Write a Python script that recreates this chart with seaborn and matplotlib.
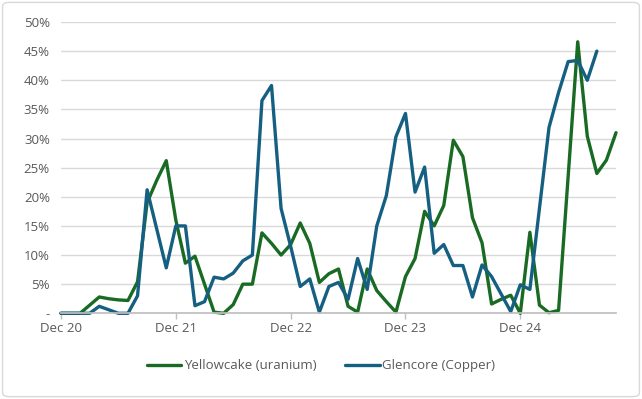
import pandas as pd
import matplotlib.pyplot as plt
import seaborn as sns
from matplotlib.patches import FancyBboxPatch
from matplotlib.ticker import FuncFormatter

# Valores mensais (Dec 20 = mês 0)
yellowcake = [0, 0, 0, 1.4, 2.8, 2.5, 2.3, 2.2, 5.4, 19.0,
              22.8, 26.2, 16.0, 8.6, 9.8, 5.0, 0.2, 0, 1.5, 5.0,
              5.0, 13.8, 12.0, 10.0, 11.8, 15.5, 12.0, 5.3, 6.8, 7.6,
              1.2, 0.2, 7.6, 3.9, 2.0, 0.2, 6.3, 9.4, 17.5, 15.0,
              18.5, 29.7, 26.9, 16.4, 12.1, 1.6, 2.4, 3.1, 0, 13.9,
              1.4, 0.1, 0.5, 23.5, 46.6, 30.4, 24.0, 26.3, 31.0]
glencore = [0, 0, 0, 0, 1.2, 0.6, 0, 0, 3.0, 21.2,
            14.5, 7.8, 15.0, 15.0, 1.3, 2.0, 6.2, 5.9, 6.9, 9.0,
            10.0, 36.5, 39.1, 18.0, 11.5, 4.6, 5.9, 0.2, 4.6, 5.3,
            2.4, 9.4, 4.1, 15.0, 20.2, 30.3, 34.3, 20.8, 25.1, 10.3,
            11.8, 8.2, 8.2, 2.8, 8.3, 6.3, 3.3, 0.3, 4.9, 4.1,
            18.0, 31.9, 37.9, 43.2, 43.4, 40.0, 45.0]
tick_months = [0, 12, 24, 36, 48]
tick_labels = ["Dec 20", "Dec 21", "Dec 22", "Dec 23", "Dec 24"]
series_names = ["Yellowcake (uranium)", "Glencore (Copper)"]

df = pd.concat([
    pd.DataFrame({"Mes": range(len(yellowcake)), "Valor": [v / 100 for v in yellowcake],
                  "Serie": series_names[0]}),
    pd.DataFrame({"Mes": range(len(glencore)), "Valor": [v / 100 for v in glencore],
                  "Serie": series_names[1]}),
], ignore_index=True)

sns.set_theme(style="white")
plt.rcParams["font.family"] = ["Open Sans", "DejaVu Sans"]

cinza = "#595959"
fig = plt.figure(figsize=(6.42, 3.99), dpi=100)
ax = fig.add_axes([0.095, 0.2148, 0.8645, 0.7301])

sns.lineplot(data=df, x="Mes", y="Valor", hue="Serie", hue_order=series_names,
             palette=["#196B24", "#156082"], linewidth=2.4, ax=ax)
for linha in ax.get_lines():
    linha.set_clip_on(False)
    linha.set_solid_joinstyle("round")

ax.set_xlim(0, 58)
ax.set_ylim(0, 0.5)
ax.set_yticks([i * 0.05 for i in range(11)])
ax.yaxis.set_major_formatter(FuncFormatter(lambda v, p: "-" if v == 0 else f"{v * 100:.0f}%"))
ax.set_xticks(tick_months)
ax.set_xticklabels(tick_labels)
ax.set_xlabel("")
ax.set_ylabel("")

ax.grid(axis="y", color="#D9D9D9", linewidth=1)
ax.set_axisbelow(True)
for lado in ["top", "right", "left"]:
    ax.spines[lado].set_visible(False)
ax.spines["bottom"].set_color("#BFBFBF")
ax.tick_params(axis="x", colors=cinza, labelsize=9.5, length=4, width=1, color="#BFBFBF",
               direction="out", pad=2, bottom=True)
ax.tick_params(axis="y", colors=cinza, labelsize=9.5, length=0, pad=8)

ax.legend(loc="center", bbox_to_anchor=(0.5, 0.083), bbox_transform=fig.transFigure,
          ncol=2, frameon=False, fontsize=9.5, handlelength=2.6, handletextpad=0.2,
          columnspacing=2.2, labelcolor=cinza)

# Borda da área do gráfico
fig.patches.append(FancyBboxPatch((0.004, 0.006), 0.992, 0.988, boxstyle="round,pad=0,rounding_size=0.01",
                                  transform=fig.transFigure, fill=False, edgecolor="#D9D9D9", linewidth=1))

fig.savefig("out.png", dpi=100)
